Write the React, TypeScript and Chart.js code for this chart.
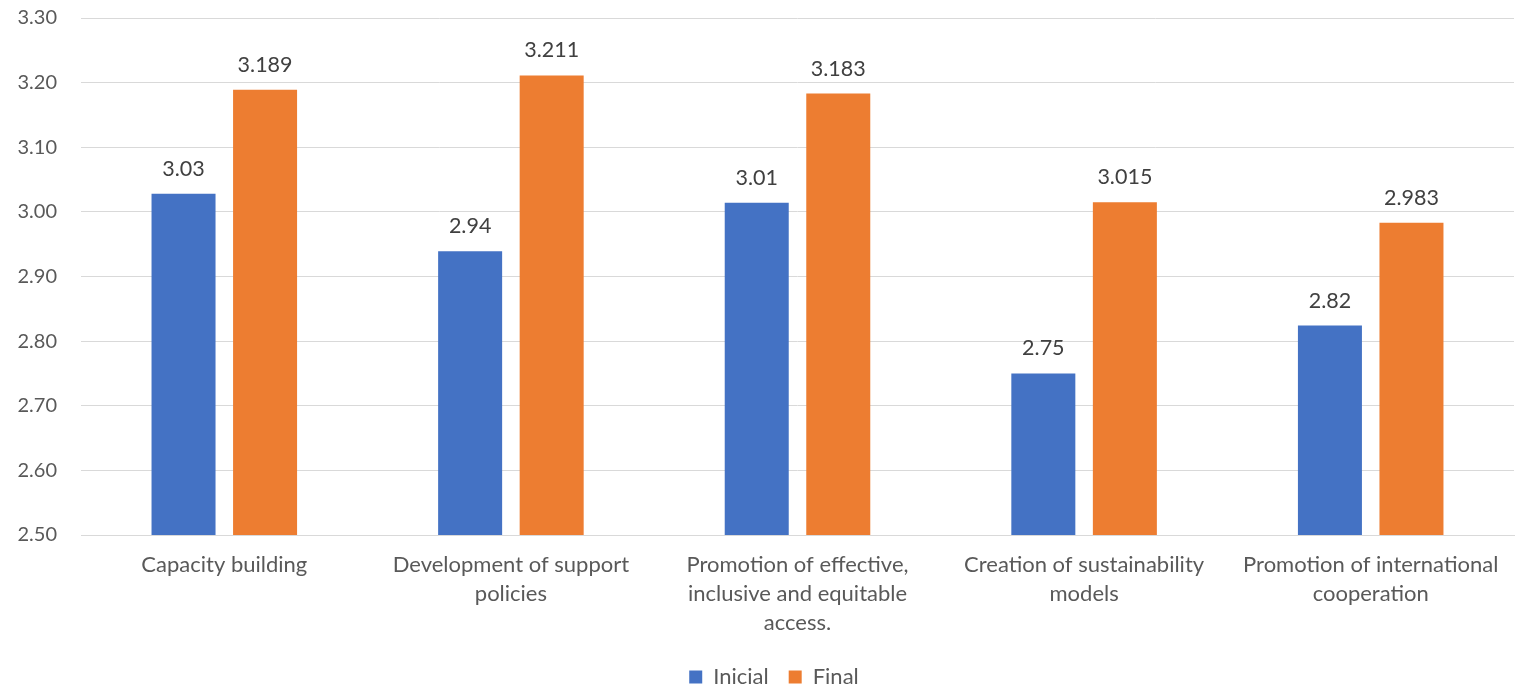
import React, { useEffect, useRef } from "react";
import { Chart, registerables } from "chart.js";

Chart.register(...registerables);

const categories: (string | string[])[] = [
  "Capacity building",
  ["Development of support", "policies"],
  ["Promotion of effective,", "inclusive and equitable", "access."],
  ["Creation of sustainability", "models"],
  ["Promotion of international", "cooperation"],
];
const inicialValues = [3.028, 2.939, 3.014, 2.75, 2.824];
const finalValues = [3.189, 3.211, 3.183, 3.015, 2.983];
const inicialDecimals = 2;
const finalDecimals = 3;
const yMin = 2.5;
const yMax = 3.3;
const yStep = 0.1;

const FONT = "Lato, 'Open Sans', sans-serif";
const TEXT = "#595959";

const dataLabelPlugin = {
  id: "dataLabels",
  afterDatasetsDraw(chart: any) {
    const ctx = chart.ctx;
    ctx.save();
    ctx.font = `21.5px ${FONT}`;
    ctx.fillStyle = "#404040";
    ctx.textAlign = "center";
    ctx.textBaseline = "middle";
    chart.data.datasets.forEach((ds: any, di: number) => {
      const meta = chart.getDatasetMeta(di);
      meta.data.forEach((bar: any, i: number) => {
        const v = ds.data[i] as number;
        ctx.fillText(v.toFixed(ds.decimals), bar.x, bar.y - 25);
      });
    });
    ctx.restore();
  },
};

const legendShiftPlugin = {
  id: "legendShift",
  afterLayout(chart: any) {
    const lg = chart.legend;
    if (lg) {
      lg.left += 17;
      lg.right += 17;
    }
  },
};

export default function App() {
  const ref = useRef<HTMLCanvasElement>(null);
  useEffect(() => {
    const chart = new Chart(ref.current!, {
      type: "bar",
      data: {
        labels: categories,
        datasets: [
          {
            label: "Inicial",
            data: inicialValues,
            backgroundColor: "#4472C4",
            decimals: inicialDecimals,
          } as any,
          {
            label: "Final",
            data: finalValues,
            backgroundColor: "#ED7D31",
            decimals: finalDecimals,
          } as any,
        ],
      },
      options: {
        animation: false,
        responsive: false,
        maintainAspectRatio: false,
        layout: { padding: { top: 0, right: 8, bottom: -11, left: 0 } },
        datasets: {
          bar: { categoryPercentage: 0.569, barPercentage: 0.785 },
        },
        plugins: {
          tooltip: { enabled: false },
          legend: {
            position: "bottom",
            labels: {
              font: { family: FONT, size: 22 },
              color: TEXT,
              boxWidth: 13,
              boxHeight: 13,
              padding: 20,
            },
          },
        },
        scales: {
          x: {
            grid: { display: false, drawTicks: false },
            border: { color: "#D9D9D9", width: 1 },
            ticks: {
              font: { family: FONT, size: 22, lineHeight: 1.3 },
              color: TEXT,
              maxRotation: 0,
              autoSkip: false,
              padding: 16,
            },
            afterFit: (s: any) => {
              s.height = 111;
            },
          },
          y: {
            min: yMin,
            max: yMax,
            grid: { color: "#D9D9D9", drawTicks: false },
            border: { display: false },
            ticks: {
              stepSize: yStep,
              font: { family: FONT, size: 20 },
              color: TEXT,
              padding: 24,
              callback: (v: any) => Number(v).toFixed(2),
            },
            afterFit: (s: any) => {
              s.width = 81;
            },
          },
        },
      },
      plugins: [dataLabelPlugin, legendShiftPlugin],
    });
    return () => chart.destroy();
  }, []);
  return (
    <div style={{ position: "fixed", left: 0, top: 0, width: 1522, height: 687, overflow: "hidden", background: "#fff" }}>
      <canvas ref={ref} width={1522} height={705} style={{ position: "absolute", left: 0, top: -18 }} />
    </div>
  );
}
